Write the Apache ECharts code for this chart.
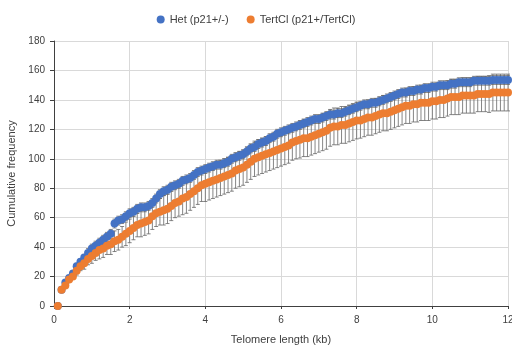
<!DOCTYPE html>
<html>
<head>
<meta charset="utf-8">
<script src="https://cdn.jsdelivr.net/npm/echarts@6/dist/echarts.min.js"></script>
<style>
  html, body { margin: 0; padding: 0; background: #fff; }
  #main { width: 512px; height: 346px; }
</style>
</head>
<body>
<div id="main"></div>
<script>
var chartDom = document.getElementById('main');
var myChart = echarts.init(chartDom);
var option;

// telomere length (kb)
var lengths = [
  0.1, 0.2, 0.3, 0.4, 0.5, 0.6, 0.7, 0.8, 0.9, 1.0,
  1.1, 1.2, 1.3, 1.4, 1.5, 1.6, 1.7, 1.8, 1.9, 2.0,
  2.1, 2.2, 2.3, 2.4, 2.5, 2.6, 2.7, 2.8, 2.9, 3.0,
  3.1, 3.2, 3.3, 3.4, 3.5, 3.6, 3.7, 3.8, 3.9, 4.0,
  4.1, 4.2, 4.3, 4.4, 4.5, 4.6, 4.7, 4.8, 4.9, 5.0,
  5.1, 5.2, 5.3, 5.4, 5.5, 5.6, 5.7, 5.8, 5.9, 6.0,
  6.1, 6.2, 6.3, 6.4, 6.5, 6.6, 6.7, 6.8, 6.9, 7.0,
  7.1, 7.2, 7.3, 7.4, 7.5, 7.6, 7.7, 7.8, 7.9, 8.0,
  8.1, 8.2, 8.3, 8.4, 8.5, 8.6, 8.7, 8.8, 8.9, 9.0,
  9.1, 9.2, 9.3, 9.4, 9.5, 9.6, 9.7, 9.8, 9.9, 10.0,
  10.1, 10.2, 10.3, 10.4, 10.5, 10.6, 10.7, 10.8, 10.9, 11.0,
  11.1, 11.2, 11.3, 11.4, 11.5, 11.6, 11.7, 11.8, 11.9, 12.0
];

var hetFreq = [
  0, 11, 16, 19, 22, 27, 30, 33, 36, 39,
  41, 43, 45, 47, 49, 56, 58, 59, 61, 63,
  64, 66, 67, 67, 68, 70, 73, 76, 78, 79,
  81, 82, 83, 85, 86, 87, 89, 91, 92, 93,
  94, 95, 96, 96, 97, 98, 100, 101, 102, 103,
  105, 107, 108, 110, 111, 112, 114, 115, 117, 118,
  119, 120, 121, 122, 123, 124, 125, 126, 127, 127,
  128, 129, 130, 130, 131, 131, 132, 133, 134, 135,
  136, 137, 137, 138, 138, 139, 140, 141, 142, 143,
  144, 145, 145, 146, 146, 147, 147, 148, 148, 149,
  149, 150, 150, 150, 151, 151, 152, 152, 152, 152,
  153, 153, 153, 153, 153, 153.5, 153.5, 153.5, 153.5, 153.5
];

var hetErr = [
  0, 1, 1, 1, 2, 2, 2, 2, 3, 3,
  3, 3, 3, 3, 3, 3, 3, 3, 3, 3,
  3, 3, 3, 3, 3, 3, 3, 3, 3, 3,
  3, 3, 3, 3, 3, 3, 3, 3, 3, 3,
  3, 3, 3, 3, 3, 3, 3, 3, 3, 3,
  3, 3, 3, 3, 3, 3, 3, 3, 3, 3,
  3, 3, 3, 3, 3, 3, 3, 3, 3, 3,
  3, 3, 3, 3, 3, 3, 3, 3, 3, 3,
  3, 3, 3, 3, 3, 3, 3, 3, 3, 3,
  3, 3, 3, 3, 3, 3, 3, 3, 3, 3,
  3, 3, 3, 3, 3, 3, 3, 3, 3, 3,
  3, 3, 3, 3, 3, 3, 3, 3, 3, 3
];

var tertFreq = [
  0, 11, 14, 18, 20, 24, 27, 29, 32, 34,
  36, 38, 39, 41, 42, 44, 45, 47, 49, 51,
  53, 55, 56, 57, 58, 61, 63, 64, 65, 66,
  68, 70, 71, 73, 74, 76, 78, 80, 82, 83,
  84, 85, 86, 87, 88, 89, 90, 92, 93, 94,
  96, 98, 100, 101, 102, 103, 104, 105, 106, 107,
  108, 109, 111, 112, 113, 114, 114, 115, 116, 117,
  118, 119, 121, 122, 122, 123, 123, 124, 125, 126,
  126, 127, 128, 128, 129, 130, 131, 131, 132, 133,
  134, 135, 136, 136, 137, 137, 138, 138, 138, 139,
  139, 140, 140, 141, 142, 142, 142, 143, 143, 143,
  143, 144, 144, 144, 144, 145, 145, 145, 145, 145
];

var tertErr = [
  0, 1, 1, 2, 2, 3, 3, 4, 4, 5,
  5, 6, 6, 6, 7, 7, 7, 7, 8, 8,
  8, 8, 9, 9, 9, 9, 9, 9, 10, 10,
  10, 10, 10, 11, 11, 11, 11, 11, 11, 12,
  12, 12, 12, 12, 12, 12, 12, 12, 12, 12,
  12, 12, 12, 12, 12, 12, 12, 12, 12, 12,
  12, 12, 12, 12, 12.5, 12.5, 12.5, 12.5, 12.5, 12.5,
  12.5, 12.5, 12.5, 12.5, 12.5, 12.5, 12.5, 12.5, 12.5, 12.5,
  12, 12, 12, 12, 12, 12, 12, 12, 12, 12,
  12, 12, 12, 12, 12, 12, 12, 12, 12, 12,
  12, 12, 12, 12, 12, 12, 12, 12, 12, 12,
  12, 12, 12, 12, 12.5, 12.5, 12.5, 12.5, 12.5, 12.5
];

var fontFam = '"Liberation Sans", Arial, sans-serif';

function points(vals) {
  return lengths.map(function (x, i) { return [x, vals[i]]; });
}

function errData(vals, errs) {
  return lengths.map(function (x, i) { return [x, vals[i] - errs[i], vals[i] + errs[i]]; });
}

function renderErr(params, api) {
  var x = api.value(0);
  var top = api.coord([x, api.value(2)]);
  var bot = api.coord([x, api.value(1)]);
  var hw = 2;
  var st = { stroke: '#666666', lineWidth: 0.8 };
  return {
    type: 'group',
    children: [
      { type: 'line', shape: { x1: top[0], y1: top[1], x2: bot[0], y2: bot[1] }, style: st },
      { type: 'line', shape: { x1: top[0] - hw, y1: top[1], x2: top[0] + hw, y2: top[1] }, style: st },
      { type: 'line', shape: { x1: bot[0] - hw, y1: bot[1], x2: bot[0] + hw, y2: bot[1] }, style: st }
    ]
  };
}

option = {
  animation: false,
  backgroundColor: '#fff',
  textStyle: { fontFamily: fontFam },
  legend: {
    top: 9,
    left: 'center',
    itemGap: 18,
    itemWidth: 8,
    itemHeight: 8,
    textStyle: { fontSize: 11, color: '#404040', fontFamily: fontFam },
    data: [
      { name: 'Het (p21+/-)', icon: 'circle' },
      { name: 'TertCl (p21+/TertCl)', icon: 'circle' }
    ]
  },
  grid: { left: 54, right: 4, top: 41, bottom: 40, containLabel: false, outerBoundsMode: 'none' },
  xAxis: {
    type: 'value',
    min: 0,
    max: 12,
    interval: 2,
    name: 'Telomere length (kb)',
    nameLocation: 'middle',
    nameGap: 28,
    nameTextStyle: { fontSize: 11, color: '#404040', fontFamily: fontFam },
    axisLine: { lineStyle: { color: '#404040', width: 1 } },
    axisTick: { show: true, length: 3, lineStyle: { color: '#404040' } },
    axisLabel: { fontSize: 10, color: '#404040', margin: 9 },
    splitLine: { show: true, lineStyle: { color: '#d9d9d9', width: 1 } }
  },
  yAxis: {
    type: 'value',
    min: 0,
    max: 180,
    interval: 20,
    name: 'Cumulative frequency',
    nameLocation: 'middle',
    nameGap: 30,
    nameTextStyle: { fontSize: 11, color: '#404040', fontFamily: fontFam },
    axisLine: { show: true, lineStyle: { color: '#404040', width: 1 } },
    axisTick: { show: true, length: 4, lineStyle: { color: '#404040' } },
    axisLabel: { fontSize: 10, color: '#404040', margin: 9 },
    splitLine: { show: true, lineStyle: { color: '#d9d9d9', width: 1 } }
  },
  series: [
    {
      name: 'Het err',
      type: 'custom',
      renderItem: renderErr,
      encode: { x: 0, y: [1, 2] },
      data: errData(hetFreq, hetErr),
      z: 1,
      silent: true
    },
    {
      name: 'TertCl err',
      type: 'custom',
      renderItem: renderErr,
      encode: { x: 0, y: [1, 2] },
      data: errData(tertFreq, tertErr),
      z: 1,
      silent: true
    },
    {
      name: 'Het (p21+/-)',
      type: 'scatter',
      symbol: 'circle',
      symbolSize: 8,
      itemStyle: { color: '#4472C4', opacity: 1 },
      data: points(hetFreq),
      z: 3
    },
    {
      name: 'TertCl (p21+/TertCl)',
      type: 'scatter',
      symbol: 'circle',
      symbolSize: 8,
      itemStyle: { color: '#ED7D31', opacity: 1 },
      data: points(tertFreq),
      z: 4
    }
  ]
};

option && myChart.setOption(option);
</script>
</body>
</html>
